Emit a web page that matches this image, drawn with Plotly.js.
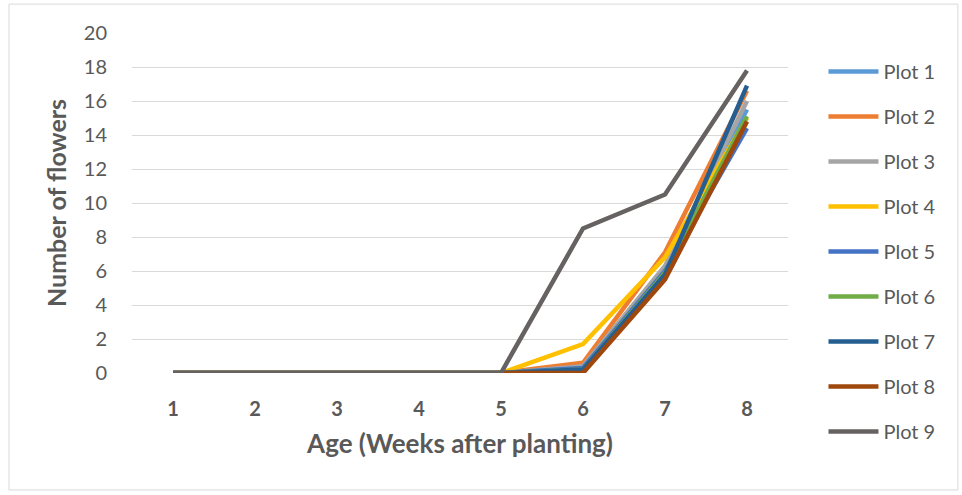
<!DOCTYPE html>
<html>
<head>
<meta charset="utf-8">
<script src="https://cdn.plot.ly/plotly-3.0.1.min.js"></script>
<style>html,body{margin:0;padding:0;background:#fff;}#chart{width:962px;height:495px;}</style>
</head>
<body>
<div id="chart"></div>
<script>
const weeks = ["1", "2", "3", "4", "5", "6", "7", "8"];
const seriesNames = ["Plot 1", "Plot 2", "Plot 3", "Plot 4", "Plot 5", "Plot 6", "Plot 7", "Plot 8", "Plot 9"];
const plot1 = [0, 0, 0, 0, 0, 0.3, 6.2, 15.5];
const plot2 = [0, 0, 0, 0, 0, 0.6, 7.1, 16.6];
const plot3 = [0, 0, 0, 0, 0, 0.4, 6.3, 16.0];
const plot4 = [0, 0, 0, 0, 0, 1.7, 6.8, 15.0];
const plot5 = [0, 0, 0, 0, 0, 0.3, 6.0, 14.4];
const plot6 = [0, 0, 0, 0, 0, 0.2, 5.9, 15.1];
const plot7 = [0, 0, 0, 0, 0, 0.2, 5.8, 16.9];
const plot8 = [0, 0, 0, 0, 0, 0.0, 5.5, 14.8];
const plot9 = [0, 0, 0, 0, 0, 8.5, 10.5, 17.8];
const allValues = [plot1, plot2, plot3, plot4, plot5, plot6, plot7, plot8, plot9];
const colors = ["#5B9BD5", "#ED7D31", "#A5A5A5", "#FFC000", "#4472C4", "#70AD47", "#255E91", "#9E480E", "#676262"];

const font = "Lato, 'Open Sans', sans-serif";
const textColor = "#595959";

const traces = allValues.map((vals, i) => ({
  type: "scatter",
  mode: "lines",
  x: weeks,
  y: vals,
  name: seriesNames[i],
  legendgroup: "g" + i,
  legend: i < 5 ? "legend" : "legend2",
  line: {color: colors[i], width: 4.5},
  hoverinfo: "x+y+name"
}));

const legendBase = {
  xref: "container", yref: "container",
  x: 0.856, xanchor: "left", yanchor: "top",
  traceorder: "grouped", tracegroupgap: 16,
  font: {family: font, size: 20, color: textColor},
  bgcolor: "rgba(0,0,0,0)",
  itemwidth: 50
};

const layout = {
  width: 962,
  height: 495,
  margin: {l: 132, r: 174, t: 33, b: 122},
  paper_bgcolor: "#ffffff",
  plot_bgcolor: "rgba(0,0,0,0)",
  font: {family: font, color: textColor, size: 20},
  showlegend: true,
  legend: Object.assign({}, legendBase, {y: 0.895}),
  legend2: Object.assign({}, legendBase, {y: 0.4404}),
  xaxis: {
    type: "category",
    range: [-0.5, 7.5],
    showgrid: false,
    zeroline: false,
    showline: false,
    ticks: "outside", ticklen: 18, tickcolor: "rgba(0,0,0,0)",
    tickfont: {family: font, size: 20, color: textColor, weight: "bold"},
    title: {text: "Age (Weeks after planting)", font: {family: font, size: 26, color: textColor, weight: "bold"}, standoff: 15},
    fixedrange: true
  },
  yaxis: {
    range: [0, 20],
    dtick: 2,
    showgrid: true, gridcolor: "#d9d9d9", gridwidth: 1,
    zeroline: false, showline: false,
    ticks: "outside", ticklen: 20, tickcolor: "rgba(0,0,0,0)",
    tickfont: {family: font, size: 20, color: textColor},
    title: {text: "Number of flowers", font: {family: font, size: 25, color: textColor, weight: "bold"}, standoff: 10},
    fixedrange: true
  },
  shapes: [
    {type: "rect", xref: "paper", yref: "paper", x0: -0.1875, x1: 1.259, y0: -0.344, y1: 1.085,
     line: {color: "#d9d9d9", width: 1}, fillcolor: "rgba(0,0,0,0)", layer: "below"}
  ]
};

Plotly.newPlot("chart", traces, layout, {displayModeBar: false, staticPlot: true});
</script>
</body>
</html>
